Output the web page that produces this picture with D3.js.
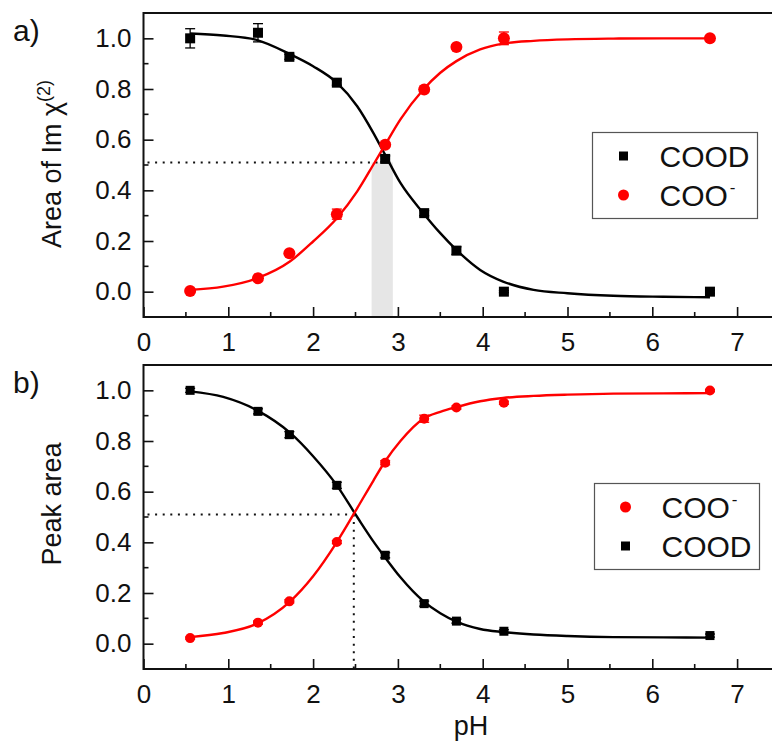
<!DOCTYPE html>
<html>
<head>
<meta charset="utf-8">
<script src="https://cdn.jsdelivr.net/npm/d3@7"></script>
<style>
  body { margin: 0; background: #fff; }
  svg { display: block; font-family: "Liberation Sans", Arial, sans-serif; }
</style>
</head>
<body>
<svg id="chart" width="772" height="744"></svg>
<script>
// measured pH values (same for both panels)
var pH = [0.55, 1.35, 1.72, 2.28, 2.85, 3.31, 3.69, 4.25, 6.68];

// a) area of Im chi(2)
var areaCOOD    = [1.0, 1.022, 0.927, 0.825, 0.524, 0.31, 0.162, 0.0, 0.0];
var areaCOODErr = [0.038, 0.036, 0.01, 0.01, 0.012, 0.01, 0.015, 0.004, 0.006];
var areaCOO     = [0.003, 0.053, 0.152, 0.306, 0.58, 0.798, 0.966, 1.0, 1.0];
var areaCOOErr  = [0.004, 0.005, 0.005, 0.02, 0.008, 0.008, 0.008, 0.025, 0.004];

// b) peak area
var peakCOOD    = [1.0, 0.917, 0.825, 0.625, 0.349, 0.158, 0.089, 0.049, 0.032];
var peakCOODErr = [0.008, 0.01, 0.012, 0.012, 0.01, 0.01, 0.008, 0.006, 0.006];
var peakCOO     = [0.022, 0.083, 0.167, 0.401, 0.714, 0.888, 0.932, 0.951, 0.999];
var peakCOOErr  = [0.004, 0.006, 0.006, 0.006, 0.008, 0.014, 0.006, 0.006, 0.004];

// fitted curves
var fitPH        = [0.55, 0.94, 1.34, 1.73, 2.0, 2.28, 2.52, 2.71, 2.85, 3.03, 3.30, 3.50, 3.69, 3.97, 4.24, 4.6, 5.0, 5.54, 6.13, 6.68];
var fitAreaCOOD  = [1.019, 1.011, 0.993, 0.937, 0.89, 0.825, 0.732, 0.627, 0.54, 0.429, 0.31, 0.231, 0.165, 0.086, 0.04, 0.007, -0.006, -0.016, -0.02, -0.022];
var fitAreaCOO   = [0.007, 0.02, 0.053, 0.12, 0.198, 0.29, 0.396, 0.501, 0.58, 0.68, 0.798, 0.864, 0.91, 0.956, 0.979, 0.99, 0.996, 0.999, 1.0, 1.0];
var fitPeakCOOD  = [0.996, 0.974, 0.921, 0.832, 0.74, 0.625, 0.50, 0.404, 0.34, 0.262, 0.168, 0.12, 0.087, 0.058, 0.046, 0.036, 0.03, 0.026, 0.025, 0.024];
var fitPeakCOO   = [0.026, 0.042, 0.079, 0.167, 0.266, 0.401, 0.535, 0.643, 0.72, 0.80, 0.888, 0.915, 0.934, 0.957, 0.97, 0.978, 0.983, 0.987, 0.988, 0.989];

var xTicks = [0, 1, 2, 3, 4, 5, 6, 7];
var xMinor = [0.5, 1.5, 2.5, 3.5, 4.5, 5.5, 6.5];
var yTicks = [0.0, 0.2, 0.4, 0.6, 0.8, 1.0];
var yMinor = [0.1, 0.3, 0.5, 0.7, 0.9];

// guide marks
var areaHalf = 0.51, areaBand = [2.69, 2.94];
var peakHalf = 0.51, peakPKa = 2.48;

var svg = d3.select("#chart");
var RED = "#ff0000";

function drawPanel(p) {
    var x = d3.scaleLinear().domain([0, 7.5]).range([143.5, 143.5 + 7.5 * 84.8]);
    var y = d3.scaleLinear().domain([-0.1, 1.1]).range([p.bottom, p.top]);
    var g = svg.append("g");

    // shaded band / dotted guides
    if (p.band) {
        g.append("rect")
            .attr("x", x(p.band[0]))
            .attr("width", x(p.band[1]) - x(p.band[0]))
            .attr("y", y(p.half))
            .attr("height", y(-0.1) - y(p.half))
            .attr("fill", "#e6e6e6");
    }
    g.append("line")
        .attr("x1", x(0) + 4).attr("x2", x(p.halfEnd))
        .attr("y1", y(p.half)).attr("y2", y(p.half))
        .attr("stroke", "#111").attr("stroke-width", 2)
        .attr("stroke-dasharray", "2,5.6");
    if (p.vline) {
        g.append("line")
            .attr("x1", x(p.vline)).attr("x2", x(p.vline))
            .attr("y1", y(p.half)).attr("y2", y(-0.1))
            .attr("stroke", "#111").attr("stroke-width", 2)
            .attr("stroke-dasharray", "2,5.6");
    }

    // axes
    var xAxis = d3.axisBottom(x).tickValues(xTicks).tickSizeInner(-10).tickSizeOuter(0)
        .tickPadding(16).tickFormat(d3.format("d"));
    var gx = g.append("g").attr("transform", "translate(0," + p.bottom + ")").call(xAxis);
    gx.append("g").selectAll("line").data(xMinor).enter().append("line")
        .attr("x1", function(d) { return x(d); }).attr("x2", function(d) { return x(d); })
        .attr("y1", 0).attr("y2", -5);
    var yAxis = d3.axisLeft(y).tickValues(yTicks).tickSizeInner(-10).tickSizeOuter(0)
        .tickPadding(12).tickFormat(d3.format(".1f"));
    var gy = g.append("g").attr("transform", "translate(" + x(0) + ",0)").call(yAxis);
    gy.append("g").selectAll("line").data(yMinor).enter().append("line")
        .attr("y1", function(d) { return y(d); }).attr("y2", function(d) { return y(d); })
        .attr("x1", 0).attr("x2", 5);
    [gx, gy].forEach(function(a) {
        a.select(".domain").remove();
        a.selectAll("line").attr("stroke", "#111").attr("stroke-width", 1.6);
        a.selectAll("text").attr("font-size", 26).attr("fill", "#111")
            .attr("font-family", "Liberation Sans, Arial, sans-serif");
    });

    // frame
    g.append("rect")
        .attr("x", x(0)).attr("y", p.top)
        .attr("width", x(7.5) - x(0)).attr("height", p.bottom - p.top)
        .attr("fill", "none").attr("stroke", "#111").attr("stroke-width", 2);

    // fitted curves
    var line = d3.line().curve(d3.curveMonotoneX)
        .x(function(d, i) { return x(fitPH[i]); })
        .y(function(d) { return y(d); });
    g.append("path").datum(p.fitBlack).attr("d", line)
        .attr("fill", "none").attr("stroke", "#000").attr("stroke-width", 2.4);
    g.append("path").datum(p.fitRed).attr("d", line)
        .attr("fill", "none").attr("stroke", RED).attr("stroke-width", 2.4);

    // error bars
    function errBars(vals, errs, color) {
        var eb = g.append("g").attr("stroke", color).attr("stroke-width", 1.3);
        vals.forEach(function(v, i) {
            var cx = x(pH[i]);
            eb.append("line").attr("x1", cx).attr("x2", cx).attr("y1", y(v - errs[i])).attr("y2", y(v + errs[i]));
            eb.append("line").attr("x1", cx - 5).attr("x2", cx + 5).attr("y1", y(v - errs[i])).attr("y2", y(v - errs[i]));
            eb.append("line").attr("x1", cx - 5).attr("x2", cx + 5).attr("y1", y(v + errs[i])).attr("y2", y(v + errs[i]));
        });
    }
    errBars(p.black, p.blackErr, "#000");
    errBars(p.red, p.redErr, RED);

    // markers
    g.append("g").selectAll("rect").data(p.black).enter().append("rect")
        .attr("x", function(d, i) { return x(pH[i]) - p.sq / 2; })
        .attr("y", function(d) { return y(d) - p.sq / 2; })
        .attr("width", p.sq).attr("height", p.sq).attr("fill", "#000");
    g.append("g").selectAll("circle").data(p.red).enter().append("circle")
        .attr("cx", function(d, i) { return x(pH[i]); })
        .attr("cy", function(d) { return y(d); })
        .attr("r", p.r).attr("fill", RED);

    // legend
    var lg = g.append("g").attr("transform", "translate(" + p.legend[0] + "," + p.legend[1] + ")");
    lg.append("rect").attr("width", 165).attr("height", 86)
        .attr("fill", "#fff").attr("stroke", "#555").attr("stroke-width", 1.2);
    p.legendItems.forEach(function(it, i) {
        var cy = 23.5 + i * 39;
        if (it.shape === "square") {
            lg.append("rect").attr("x", 26.5).attr("y", cy - 4.5).attr("width", 9).attr("height", 9).attr("fill", "#000");
        } else {
            lg.append("circle").attr("cx", 31).attr("cy", cy).attr("r", 5.5).attr("fill", RED);
        }
        var t = lg.append("text").attr("x", 67).attr("y", cy + 10.5)
            .attr("font-size", 30).attr("fill", "#111").text(it.label);
        if (it.sup) {
            t.append("tspan").attr("dy", -13).attr("dx", 2).attr("font-size", 17).text(it.sup);
        }
    });

    // panel label
    g.append("text").attr("x", 13).attr("y", p.top + 28)
        .attr("font-size", 30).attr("fill", "#111").text(p.tag);

    // y title
    var yt = g.append("text")
        .attr("transform", "translate(61," + p.titleY + ") rotate(-90)")
        .attr("text-anchor", "middle").attr("font-size", 27).attr("fill", "#111")
        .text(p.title);
    if (p.titleSup) {
        yt.append("tspan").attr("dy", -11).attr("font-size", 18).text(p.titleSup);
    }
}

drawPanel({
    top: 13, bottom: 317, tag: "a)",
    title: "Area of Im \u03c7", titleSup: "(2)", titleY: 164,
    black: areaCOOD, blackErr: areaCOODErr, red: areaCOO, redErr: areaCOOErr,
    fitBlack: fitAreaCOOD, fitRed: fitAreaCOO,
    half: areaHalf, halfEnd: 2.8, band: areaBand,
    sq: 10, r: 6,
    legend: [592.5, 132.5],
    legendItems: [{ shape: "square", label: "COOD" }, { shape: "circle", label: "COO", sup: "-" }]
});

drawPanel({
    top: 365, bottom: 669, tag: "b)",
    title: "Peak area", titleY: 504,
    black: peakCOOD, blackErr: peakCOODErr, red: peakCOO, redErr: peakCOOErr,
    fitBlack: fitPeakCOOD, fitRed: fitPeakCOO,
    half: peakHalf, halfEnd: peakPKa, vline: peakPKa,
    sq: 9, r: 5,
    legend: [594.5, 483.5],
    legendItems: [{ shape: "circle", label: "COO", sup: "-" }, { shape: "square", label: "COOD" }]
});

svg.append("text").attr("x", 471).attr("y", 735)
    .attr("text-anchor", "middle").attr("font-size", 27).attr("fill", "#111").text("pH");
</script>
</body>
</html>
